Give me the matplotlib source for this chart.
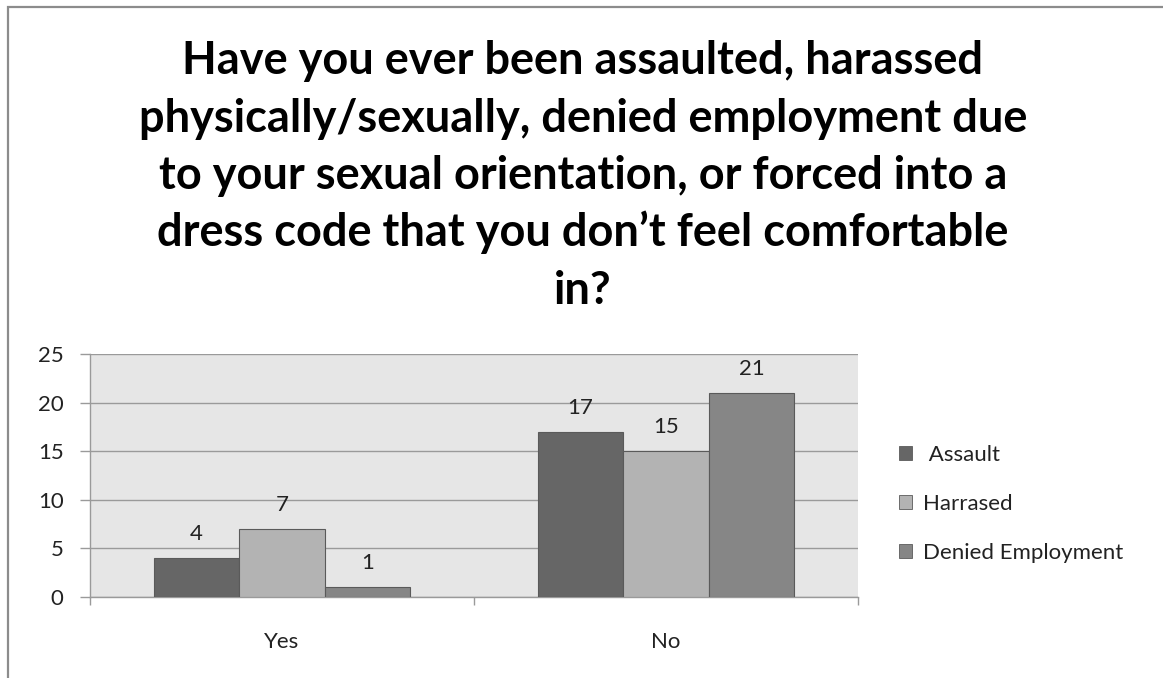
import matplotlib
matplotlib.use("Agg")
import matplotlib.pyplot as plt
from matplotlib.patches import Rectangle, Patch
import numpy as np

# Survey responses
categories = ["Yes", "No"]
series_names = [" Assault", "Harrased", "Denied Employment"]
assault = [4, 17]
harrased = [7, 15]
denied = [1, 21]
series_colors = ["#666666", "#b3b3b3", "#868686"]
y_ticks = [0, 5, 10, 15, 20, 25]

title_lines = [
    "Have you ever been assaulted, harassed",
    "physically/sexually, denied employment due",
    "to your sexual orientation, or forced into a",
    "dress code that you don\u2019t feel comfortable",
    "in?",
]

W, H = 1163, 678
fig = plt.figure(figsize=(W / 100, H / 100), dpi=100)
fig.patch.set_facecolor("white")

# outer chart frame (left and top edges visible)
frame = Rectangle((8 / W, -0.1), 1.2, 1.1 - 7 / H, transform=fig.transFigure,
                  fill=False, edgecolor="#8c8c8c", linewidth=1.6)
fig.add_artist(frame)

# title
font = "Lato"
base = 74
for i, line in enumerate(title_lines):
    fig.text(583 / W, 1 - (base + i * 57.5) / H, line, ha="center", va="baseline",
             fontsize=32.5, fontweight="bold", family=font, color="#000000")

ax = fig.add_axes([90 / W, 81 / H, (858 - 90) / W, (597 - 354) / H])
ax.set_facecolor("#e6e6e6")

fs = 16
x = np.arange(len(categories))
w = 0.2228
all_series = [assault, harrased, denied]
for k, (vals, name, col) in enumerate(zip(all_series, series_names, series_colors)):
    bars = ax.bar(x + (k - 1) * w, vals, width=w, color=col, edgecolor="#5a5a5a",
                  linewidth=0.8, label=name, zorder=3)
    for b, v in zip(bars, vals):
        ax.annotate(str(v), (b.get_x() + b.get_width() / 2, v), xytext=(0, 13),
                    textcoords="offset points", ha="center", va="baseline",
                    fontsize=fs, family=font, color="#222222")

ax.set_xlim(-0.5, 1.5)
ax.set_ylim(0, 25)
ax.set_yticks(y_ticks)
ax.yaxis.grid(True, color="#9a9a9a", linewidth=1.0, zorder=0)
ax.set_axisbelow(True)

for s in ["top", "right"]:
    ax.spines[s].set_visible(False)
for s in ["left", "bottom"]:
    ax.spines[s].set_color("#9a9a9a")
    ax.spines[s].set_linewidth(1.0)

ax.tick_params(axis="y", length=7, width=1.0, color="#9a9a9a", pad=12,
               labelsize=fs, labelcolor="#222222")
ax.set_yticklabels([str(t) for t in y_ticks], family=font)

# category boundaries carry tick marks; labels sit centred below
ax.set_xticks([-0.5, 0.5, 1.5])
ax.set_xticklabels([])
ax.tick_params(axis="x", length=6, width=1.0, color="#9a9a9a")
for xi, c in zip(x, categories):
    ax.annotate(c, (xi, 0), xytext=(0, -37), textcoords="offset points",
                ha="center", va="baseline", fontsize=fs, family=font, color="#222222")

handles = [Patch(facecolor=c, edgecolor="#5a5a5a", linewidth=0.6) for c in series_colors]
fig.legend(handles, series_names, loc="center left", bbox_to_anchor=(879 / W, 1 - 504 / H),
           frameon=False, handlelength=0.6, handleheight=0.6, handletextpad=0.5,
           labelspacing=1.3, prop={"family": font, "size": fs}, labelcolor="#222222")

fig.savefig("out.png", dpi=100)
